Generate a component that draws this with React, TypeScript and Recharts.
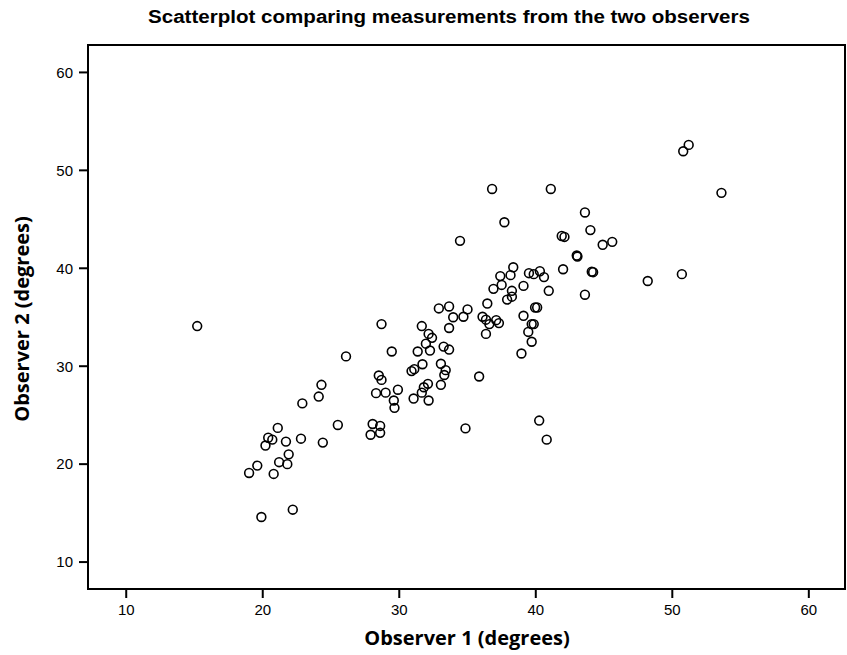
import { ScatterChart, Scatter, XAxis, YAxis, ReferenceArea } from "recharts";

// Observer 1 (x) and Observer 2 (y) readings, in degrees
const observer1 = [
  15.2, 28.7, 26.1, 28.5, 28.7, 28.3, 29.0, 24.3, 24.1, 22.9,
  21.1, 20.4, 20.7, 20.2, 21.7, 22.8, 24.4, 25.5, 28.05, 28.6,
  27.9, 28.6, 21.9, 21.2, 21.8, 19.6, 19.0, 20.8, 19.9, 22.2,
  36.8, 41.1, 43.6, 37.7, 44.0, 41.9, 42.1, 34.45, 44.9, 45.6,
  43.0, 43.05, 42.0, 44.1, 44.2, 48.2, 43.6, 38.35, 37.4, 38.15,
  39.5, 39.85, 40.3, 40.6, 37.5, 36.9, 39.1, 40.95, 38.25, 38.25,
  37.9, 36.45, 39.95, 40.1, 32.9, 33.65, 35.0, 33.95, 34.7, 33.65,
  31.65, 36.1, 36.35, 36.6, 37.1, 37.3, 36.35, 39.1, 39.7, 39.85,
  39.45, 39.7, 38.95, 32.15, 32.4, 31.95, 31.35, 32.25, 33.25, 33.65,
  29.45, 31.7, 31.1, 30.9, 33.05, 33.4, 33.3, 33.05, 35.85, 32.1,
  31.8, 31.65, 31.05, 32.15, 29.9, 29.6, 29.65, 34.85, 40.25, 40.8,
  51.2, 50.8, 53.6, 50.7,
];

const observer2 = [
  34.1, 34.3, 31.0, 29.05, 28.6, 27.25, 27.3, 28.1, 26.9, 26.2,
  23.7, 22.7, 22.5, 21.9, 22.3, 22.6, 22.2, 24.0, 24.1, 23.9,
  23.0, 23.2, 21.0, 20.2, 20.0, 19.85, 19.1, 19.0, 14.6, 15.35,
  48.1, 48.1, 45.7, 44.7, 43.9, 43.3, 43.2, 42.8, 42.4, 42.7,
  41.3, 41.2, 39.9, 39.65, 39.6, 38.7, 37.3, 40.1, 39.2, 39.3,
  39.5, 39.4, 39.7, 39.1, 38.3, 37.9, 38.2, 37.7, 37.7, 37.1,
  36.8, 36.4, 36.0, 36.0, 35.9, 36.1, 35.8, 35.0, 35.05, 33.9,
  34.1, 35.05, 34.75, 34.3, 34.7, 34.4, 33.3, 35.15, 34.3, 34.3,
  33.5, 32.5, 31.3, 33.3, 32.9, 32.3, 31.5, 31.6, 32.0, 31.7,
  31.5, 30.2, 29.7, 29.5, 30.25, 29.6, 29.1, 28.1, 28.95, 28.2,
  27.85, 27.3, 26.7, 26.5, 27.6, 26.5, 25.75, 23.65, 24.45, 22.5,
  52.6, 51.95, 47.7, 39.4,
];

const ticks = [10, 20, 30, 40, 50, 60];
const xDomain: [number, number] = [7.2, 62.65];
const yDomain: [number, number] = [7.25, 62.8];

const data = observer1.map((x, i) => ({ x, y: observer2[i] }));

function Ring(props: { cx?: number; cy?: number }) {
  const { cx, cy } = props;
  if (cx == null || cy == null) return null;
  return <circle cx={cx} cy={cy} r={4.4} fill="none" stroke="#000" strokeWidth={1.6} />;
}

const tickStyle = { fill: "#000", fontSize: 15, fontFamily: "Liberation Sans, Arial, sans-serif" };

const axisTitle = {
  position: "absolute" as const,
  fontFamily: "Open Sans, sans-serif",
  fontWeight: 700,
  fontSize: 20,
  lineHeight: "26px",
  color: "#000",
  textAlign: "center" as const,
  whiteSpace: "nowrap" as const,
};

export default function App() {
  return (
    <div style={{ position: "absolute", left: 0, top: 0, width: 847, height: 655, background: "#fff" }}>
      <svg width={847} height={40} style={{ position: "absolute", left: 0, top: 0 }}>
        <text
          x={449}
          y={23}
          textAnchor="middle"
          textLength={602}
          lengthAdjust="spacingAndGlyphs"
          fontWeight="bold"
          fontSize={18}
          fontFamily="Liberation Sans, Arial, sans-serif"
          fill="#000"
        >
          Scatterplot comparing measurements from the two observers
        </text>
      </svg>
      <ScatterChart width={847} height={655} margin={{ top: 45, right: 2, bottom: 0, left: 28 }}>
        <XAxis
          type="number"
          dataKey="x"
          domain={xDomain}
          ticks={ticks}
          allowDataOverflow
          height={66}
          tickSize={9}
          tickMargin={6}
          tick={tickStyle}
          axisLine={{ stroke: "#000", strokeWidth: 2 }}
          tickLine={{ stroke: "#000", strokeWidth: 2 }}
        />
        <YAxis
          type="number"
          dataKey="y"
          domain={yDomain}
          ticks={ticks}
          allowDataOverflow
          width={60}
          tickSize={9}
          tickMargin={6}
          tick={tickStyle}
          axisLine={{ stroke: "#000", strokeWidth: 2 }}
          tickLine={{ stroke: "#000", strokeWidth: 2 }}
        />
        <ReferenceArea
          x1={xDomain[0]}
          x2={xDomain[1]}
          y1={yDomain[0]}
          y2={yDomain[1]}
          fill="none"
          stroke="#000"
          strokeWidth={2}
          ifOverflow="visible"
        />
        <Scatter data={data} shape={<Ring />} isAnimationActive={false} />
      </ScatterChart>
      <div style={{ ...axisTitle, left: 88, width: 758, top: 625 }}>Observer 1 (degrees)</div>
      <div
        style={{
          ...axisTitle,
          left: 22,
          top: 319,
          width: 260,
          transform: "translate(-50%, -50%) rotate(-90deg)",
        }}
      >
        Observer 2 (degrees)
      </div>
    </div>
  );
}
